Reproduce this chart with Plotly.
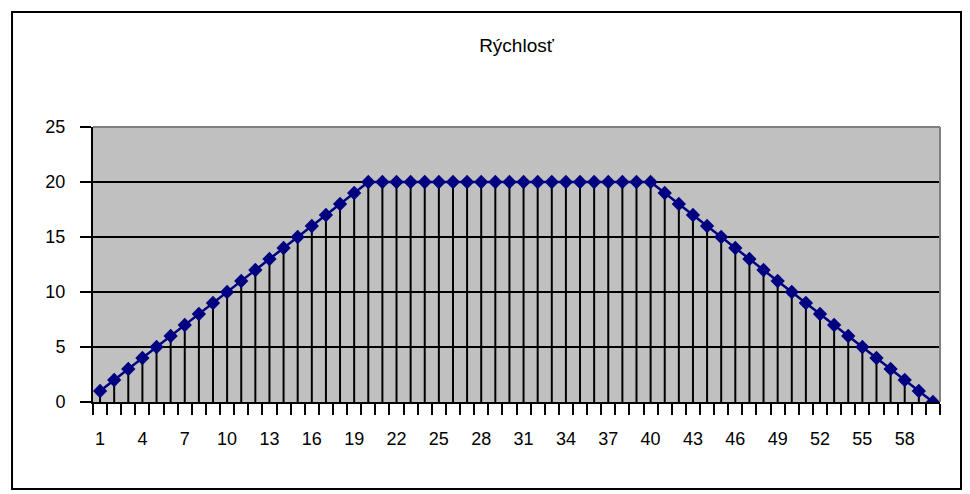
import plotly.graph_objects as go

# Data
categories = list(range(1, 61))
speed = [1, 2, 3, 4, 5, 6, 7, 8, 9, 10,
         11, 12, 13, 14, 15, 16, 17, 18, 19, 20,
         20, 20, 20, 20, 20, 20, 20, 20, 20, 20,
         20, 20, 20, 20, 20, 20, 20, 20, 20, 20,
         19, 18, 17, 16, 15, 14, 13, 12, 11, 10,
         9, 8, 7, 6, 5, 4, 3, 2, 1, 0]
x_tick_values = list(range(1, 61, 3))
x_tick_labels = [str(v) for v in x_tick_values]
y_ticks = [0, 5, 10, 15, 20, 25]
title_text = "Rýchlosť"

font_family = "Liberation Sans, Arial, sans-serif"
# category boundaries for tick marks (Excel style: ticks between categories)
boundaries = [c - 0.5 for c in categories] + [categories[-1] + 0.5]
xrange = [categories[0] - 0.5, categories[-1] + 0.5]

fig = go.Figure()

# drop lines
fig.add_trace(go.Scatter(
    x=categories, y=speed, mode="markers",
    marker=dict(size=0.1, color="rgba(0,0,0,0)"),
    error_y=dict(type="data", symmetric=False,
                 array=[0] * len(speed), arrayminus=speed,
                 color="black", thickness=2, width=0),
    hoverinfo="skip", showlegend=False,
    xaxis="x", yaxis="y",
))

# main series
fig.add_trace(go.Scatter(
    x=categories, y=speed, mode="lines+markers",
    line=dict(color="#000080", width=2.5),
    marker=dict(symbol="diamond", size=11, color="#000080"),
    showlegend=False,
    xaxis="x2", yaxis="y",
))

fig.update_layout(
    width=962, height=486,
    margin=dict(l=85, r=30, t=119, b=92),
    paper_bgcolor="white",
    plot_bgcolor="#c0c0c0",
    font=dict(family=font_family, size=18, color="black"),
    title=dict(text=title_text, x=0.5, xref="paper", xanchor="center",
               y=1 - 37 / 486, yref="container", yanchor="middle",
               font=dict(size=19, family=font_family, color="black")),
    xaxis=dict(
        range=xrange,
        tickmode="array",
        tickvals=boundaries,
        ticktext=[""] * len(boundaries),
        ticks="outside", ticklen=11, tickwidth=2, tickcolor="black",
        showgrid=False,
        zeroline=False,
        showline=True, linecolor="black", linewidth=2,
    ),
    xaxis2=dict(
        range=xrange,
        overlaying="x",
        anchor="y",
        side="bottom",
        tickmode="array",
        tickvals=x_tick_values,
        ticktext=x_tick_labels,
        ticks="",
        showgrid=False,
        zeroline=False,
        showline=False,
        ticklabelstandoff=24,
    ),
    yaxis=dict(
        range=[0, 25],
        tickmode="array",
        tickvals=y_ticks,
        ticks="outside", ticklen=11, tickwidth=2, tickcolor="black",
        showgrid=True, gridcolor="black", gridwidth=2,
        zeroline=False,
        showline=True, linecolor="black", linewidth=2,
        ticklabelstandoff=11,
    ),
    shapes=[
        # plot-area top and right border
        dict(type="line", xref="paper", yref="paper", x0=0, x1=1, y0=1, y1=1,
             line=dict(color="#808080", width=2), layer="above"),
        dict(type="line", xref="paper", yref="paper", x0=1, x1=1, y0=0, y1=1,
             line=dict(color="#808080", width=2), layer="above"),
        # outer chart border
        dict(type="rect", xref="paper", yref="paper",
             x0=-0.0956, x1=1.0248, y0=-0.3164, y1=1.418,
             line=dict(color="black", width=2), fillcolor="rgba(0,0,0,0)"),
    ],
)

fig.write_html("out.html")
